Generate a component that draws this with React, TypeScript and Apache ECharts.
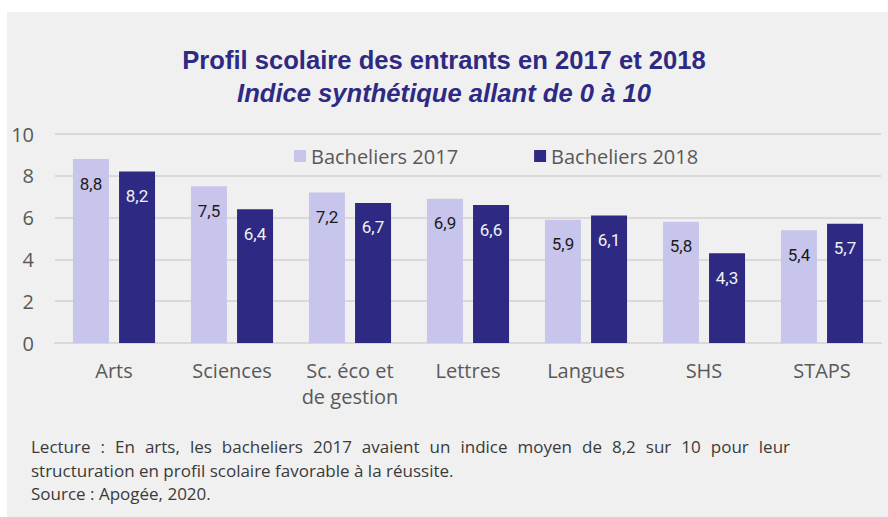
import React, { useEffect, useRef } from "react";
import * as echarts from "echarts";

const categories = ["Arts", "Sciences", "Sc. éco et\nde gestion", "Lettres", "Langues", "SHS", "STAPS"];
const values2017 = [8.8, 7.5, 7.2, 6.9, 5.9, 5.8, 5.4];
const values2018 = [8.2, 6.4, 6.7, 6.6, 6.1, 4.3, 5.7];
const seriesNames = ["Bacheliers 2017", "Bacheliers 2018"];
const titleText = "Profil scolaire des entrants en 2017 et 2018";
const subtitleText = "Indice synthétique allant de 0 à 10";
const noteLines = [
  "Lecture : En arts, les bacheliers 2017 avaient un indice moyen de 8,2 sur 10 pour leur",
  "structuration en profil scolaire favorable à la réussite.",
  "Source : Apogée, 2020.",
];
const justifiedLines = [true, false, false];

const fmt = (v: number) => String(v).replace(".", ",");

const NOTE_FONT = "17px 'Open Sans', sans-serif";

function buildNote(): any[] {
  const canvas = document.createElement("canvas");
  const ctx = canvas.getContext("2d")!;
  ctx.font = NOTE_FONT;
  const left = 31;
  const right = 790;
  const out: any[] = [];
  noteLines.forEach((line, i) => {
    const top = 438 + i * 23.5;
    if (!justifiedLines[i]) {
      out.push({ type: "text", left, top, style: { text: line, fill: "#3a3a3a", font: NOTE_FONT } });
      return;
    }
    const words = line.split(" ");
    const widths = words.map((w) => ctx.measureText(w).width);
    const total = widths.reduce((a, b) => a + b, 0);
    const gap = (right - left - total) / (words.length - 1);
    let x = left;
    words.forEach((w, j) => {
      out.push({ type: "text", x, y: top, style: { text: w, fill: "#3a3a3a", font: NOTE_FONT } });
      x += widths[j] + gap;
    });
  });
  return out;
}

export default function App() {
  const ref = useRef<HTMLDivElement>(null);
  useEffect(() => {
    const chart = echarts.init(ref.current!, undefined, { renderer: "svg" });
    const labelFont = "Roboto, sans-serif";
    const axisFont = "'Open Sans', sans-serif";
    const titleFont = "'Liberation Sans', Arial, sans-serif";
    chart.setOption({
      animation: false,
      backgroundColor: "#ffffff",
      graphic: [
        { type: "rect", left: 7, top: 12, shape: { width: 881, height: 505 }, style: { fill: "#f0f0f0" }, z: -10 },
        ...buildNote(),
      ],
      title: [
        {
          text: titleText,
          left: "center",
          top: 42,
          textStyle: { color: "#2e2a84", fontSize: 25.6, fontWeight: "bold", fontFamily: titleFont },
        },
        {
          text: subtitleText,
          left: "center",
          top: 75,
          textStyle: { color: "#2e2a84", fontSize: 25.6, fontWeight: "bold", fontStyle: "italic", fontFamily: titleFont },
        },
      ],
      legend: {
        data: seriesNames,
        top: 141,
        left: 289,
        itemWidth: 12,
        itemHeight: 12,
        itemGap: 76,
        icon: "rect",
        textStyle: { color: "#595959", fontSize: 20, fontFamily: axisFont },
      },
      grid: { left: 55, right: 7, top: 134, bottom: 174 },
      xAxis: {
        type: "category",
        data: categories,
        axisLine: { lineStyle: { color: "#d9d9d9", width: 2 } },
        axisTick: { show: false },
        axisLabel: { interval: 0, color: "#595959", fontSize: 20, fontFamily: axisFont, margin: 14, lineHeight: 26 },
      },
      yAxis: {
        type: "value",
        min: 0,
        max: 10,
        interval: 2,
        axisLine: { show: false },
        axisTick: { show: false },
        splitLine: { lineStyle: { color: "#d9d9d9", width: 2 } },
        axisLabel: { color: "#595959", fontSize: 20, fontFamily: axisFont, margin: 21 },
      },
      series: [
        {
          name: seriesNames[0],
          type: "bar",
          data: values2017,
          barWidth: 36,
          barGap: "28%",
          itemStyle: { color: "#c8c5ec" },
          label: {
            show: true,
            position: "insideTop",
            distance: 16,
            color: "#1a1a1a",
            fontSize: 17,
            fontFamily: labelFont,
            formatter: (p: any) => fmt(p.value),
          },
        },
        {
          name: seriesNames[1],
          type: "bar",
          data: values2018,
          barWidth: 36,
          itemStyle: { color: "#2e2a84" },
          label: {
            show: true,
            position: "insideTop",
            distance: 16,
            color: "#f2f2f2",
            fontSize: 17,
            fontFamily: labelFont,
            formatter: (p: any) => fmt(p.value),
          },
        },
      ],
    });
    return () => chart.dispose();
  }, []);
  return <div ref={ref} style={{ width: 888, height: 517, position: "absolute", left: 0, top: 0 }} />;
}
